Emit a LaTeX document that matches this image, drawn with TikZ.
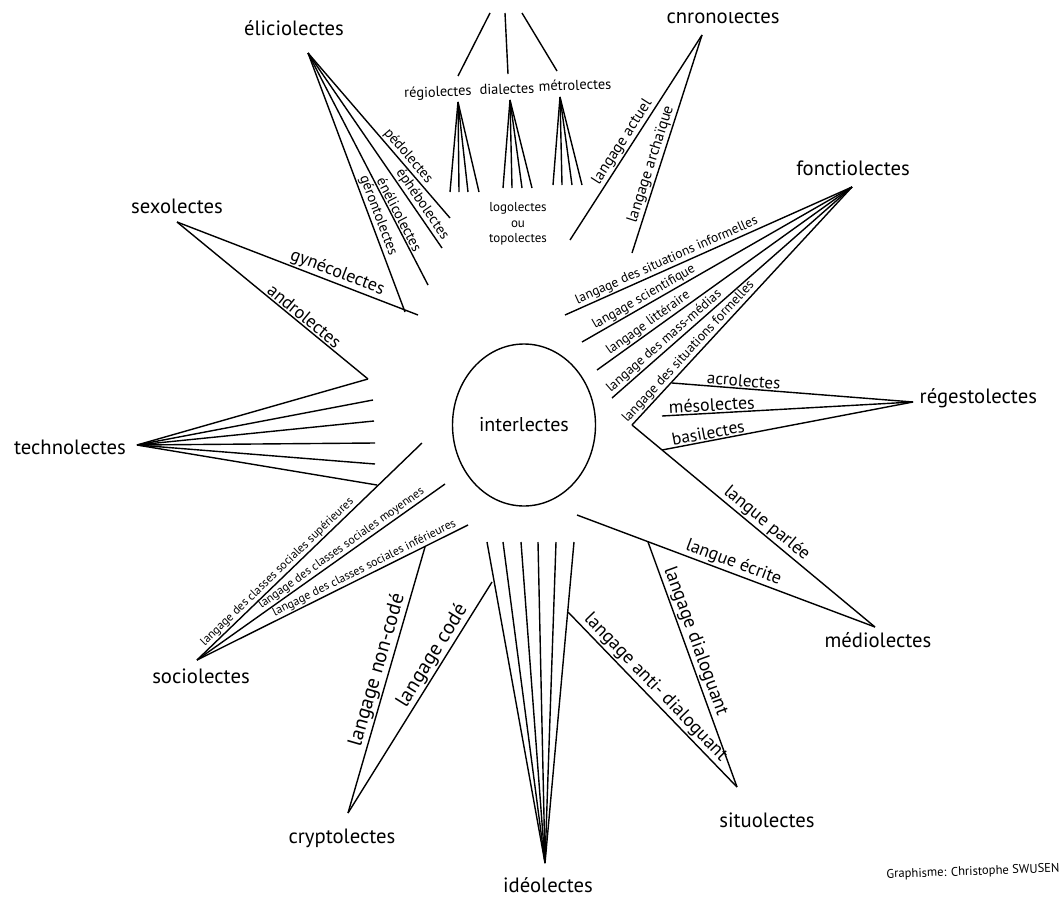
\documentclass[tikz,border=0pt]{standalone}
\usepackage{fontspec}
\setmainfont{PT Sans}
\usetikzlibrary{shapes.geometric}
\begin{document}
\begin{tikzpicture}[x=1pt,y=-1pt,line width=1.4pt,
  big/.style={font=\fontsize{20.7}{23}\selectfont,inner sep=0pt},
  midl/.style={font=\fontsize{20.5}{23}\selectfont},
  med/.style={font=\fontsize{18}{20}\selectfont},
  chr/.style={font=\fontsize{15.5}{18}\selectfont},
  sml/.style={font=\fontsize{14.4}{16}\selectfont},
  eli/.style={font=\fontsize{14.5}{16}\selectfont},
  tiny/.style={font=\fontsize{13.5}{15}\selectfont},
  logo/.style={font=\fontsize{13}{15.5}\selectfont},
  micro/.style={font=\fontsize{12}{14}\selectfont},
  lab/.style={sloped,above,inner sep=1.2pt}]
\useasboundingbox (0,0) rectangle (1064,902);
\fill[white] (0,0) rectangle (1064,902);

% centre
\node[draw,ellipse,minimum width=143pt,minimum height=162pt,inner sep=0pt,big,font=\fontsize{20}{22}\selectfont] (C) at (524,425) {interlectes};

% top: geolectes branches
\coordinate (g1) at (490,13); \coordinate (g2) at (505,13); \coordinate (g3) at (522,13);
\coordinate (r0) at (458,76); \coordinate (d0) at (508,74); \coordinate (m0) at (557,71);
\draw (g1) -- (r0); \draw (g2) -- (d0); \draw (g3) -- (m0);
\node[sml,rotate=2] (regio) at (438,93) {régiolectes};
\node[sml,rotate=2] (dia) at (507,89) {dialectes};
\node[sml,rotate=2] (metro) at (575,85) {métrolectes};
\coordinate (ra) at (458,102); \coordinate (da) at (510,100); \coordinate (ma) at (560,97);
\foreach \x [count=\i] in {450,459,468,479} \coordinate (ra\i) at (\x,192);
\foreach \x [count=\i] in {503,512,522,532} \coordinate (da\i) at (\x,188);
\foreach \x [count=\i] in {553,562,572,582} \coordinate (ma\i) at (\x,185);
\foreach \i in {1,...,4} {\draw (ra) -- (ra\i); \draw (da) -- (da\i); \draw (ma) -- (ma\i);}
\node[logo,align=center] (logo) at (518,224) {logolectes\\ou\\topolectes};

% chronolectes
\node[big,anchor=base] (chrono) at (723,23) {chronolectes};
\coordinate (ch) at (702,35); \coordinate (ca) at (570,240); \coordinate (cb) at (632,253);
\draw (ch) -- node[lab,chr,pos=0.546] {langage actuel} (ca);
\draw (ch) -- node[lab,chr,pos=0.606] {langage archaïque} (cb);

% eliciolectes
\node[big] (elic) at (294,28) {éliciolectes};
\coordinate (el) at (308,53);
\coordinate (e1) at (450,218); \coordinate (e2) at (442,248);
\coordinate (e3) at (428,285); \coordinate (e4) at (405,312);
\draw (el) -- node[lab,eli,pos=0.66] {pédolectes} (e1);
\draw (el) -- node[lab,eli,pos=0.8] {éphébolectes} (e2);
\draw (el) -- node[lab,eli,pos=0.71] {énélicolectes} (e3);
\draw (el) -- node[lab,eli,pos=0.64] {gérontolectes} (e4);

% sexolectes
\node[big] (sexo) at (177,206) {sexolectes};
\coordinate (sx) at (177,222); \coordinate (s1) at (418,315); \coordinate (s2) at (368,379);
\draw (sx) -- node[lab,med,pos=0.65] {gynécolectes} (s1);
\draw (sx) -- node[lab,med,pos=0.64] {androlectes} (s2);

% technolectes
\node[big] (techno) at (70,447) {technolectes};
\coordinate (te) at (137,445);
\coordinate (t2) at (373,400); \coordinate (t3) at (374,421); \coordinate (t4) at (375,443);
\coordinate (t5) at (375,464); \coordinate (t6) at (377,485);
\draw (te) -- (s2);
\foreach \i in {2,...,6} \draw (te) -- (t\i);

% sociolectes
\node[big] (socio) at (201,676) {sociolectes};
\coordinate (so) at (197,660);
\coordinate (so1) at (422,443); \coordinate (so2) at (445,484); \coordinate (so3) at (468,525);
\draw (so) -- node[lab,micro,pos=0.38] {langage des classes sociales supérieures} (so1);
\draw (so) -- node[lab,micro,pos=0.6] {langage des classes sociales moyennes} (so2);
\draw (so) -- node[lab,micro,pos=0.63] {langage des classes sociales inférieures} (so3);

% cryptolectes
\node[big] (crypto) at (342,838) {cryptolectes};
\coordinate (cr) at (348,813); \coordinate (cr1) at (425,547); \coordinate (cr2) at (492,582);
\draw (cr) -- node[lab,midl,pos=0.525] {langage non-codé} (cr1);
\draw (cr) -- node[lab,midl,pos=0.654] {langage codé} (cr2);

% ideolectes
\node[big] (ideo) at (548,885) {idéolectes};
\coordinate (id) at (545,863);
\foreach \x [count=\i] in {487,503,521,538,556,574} {\coordinate (id\i) at (\x,542); \draw (id) -- (id\i);}

% mediolectes
\node[big] (medio) at (878,640) {médiolectes};
\coordinate (me) at (875,627); \coordinate (me1) at (577,515); \coordinate (me2) at (632,425);
\draw (me) -- node[lab,med,pos=0.487] {langue écrite} (me1);
\draw (me) -- node[lab,med,pos=0.473] {langue parlée} (me2);

% situolectes
\node[big] (situ) at (767,820) {situolectes};
\coordinate (si) at (737,787); \coordinate (si1) at (568,612); \coordinate (si2) at (648,542);
\draw (si) -- node[lab,font=\fontsize{18.7}{21}\selectfont,pos=0.527] {langage anti- dialoguant} (si1);
\draw (si) -- node[lab,font=\fontsize{19}{21}\selectfont,pos=0.58] {langage dialoguant} (si2);

% regestolectes
\node[big,anchor=west] (reg) at (919,398) {régestolectes};
\coordinate (rg) at (913,402);
\coordinate (rg1) at (672,383); \coordinate (rg2) at (662,416); \coordinate (rg3) at (662,450);
\draw (rg) -- node[lab,med,font=\fontsize{17}{19}\selectfont,pos=0.705] {acrolectes} (rg1);
\draw (rg) -- node[lab,med,pos=0.8] {mésolectes} (rg2);
\draw (rg) -- node[lab,med,font=\fontsize{17.4}{19}\selectfont,pos=0.81] {basilectes} (rg3);

% fonctiolectes
\node[big] (fonc) at (853,168) {fonctiolectes};
\coordinate (fo) at (852,187);
\coordinate (f1) at (565,315); \coordinate (f2) at (582,342); \coordinate (f3) at (597,370); \coordinate (f4) at (612,398);
\draw (fo) -- node[lab,tiny,pos=0.634] {langage des situations informelles} (f1);
\draw (fo) -- node[lab,tiny,pos=0.756] {langage scientifique} (f2);
\draw (fo) -- node[lab,tiny,pos=0.78] {langage littéraire} (f3);
\draw (fo) -- node[lab,tiny,pos=0.76] {langage des mass-médias} (f4);
\draw (fo) -- node[lab,tiny,pos=0.716] {langage des situations formelles} (me2);

% credit
\node[font=\fontsize{12.6}{14}\selectfont,rotate=2] (credit) at (973,872) {Graphisme: Christophe SWUSEN};

% scan edge: the top strip is cut off in the reference
\fill[white] (0,0) rectangle (1064,12);
\end{tikzpicture}
\end{document}
